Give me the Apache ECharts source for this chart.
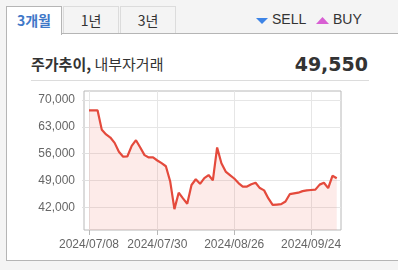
<!DOCTYPE html>
<html><head><meta charset="utf-8">
<script src="https://cdn.jsdelivr.net/npm/echarts@6/dist/echarts.min.js"></script>
<style>
html,body{margin:0;padding:0;width:398px;height:270px;background:#f4f4f4;overflow:hidden;font-family:"Noto Sans CJK KR","Liberation Sans",sans-serif;}
#panel{position:absolute;left:6px;top:33px;width:400px;height:226px;background:#fff;border-left:1px solid #b5b5b5;border-top:1px solid #b5b5b5;border-bottom:1px solid #b5b5b5;}
.tab{position:absolute;top:6px;height:27px;box-sizing:border-box;text-align:center;line-height:26px;font-size:14px;color:#333;background:#f4f4f4;border:1px solid #dcdcdc;border-bottom:none;}
#t1{left:6px;width:56px;background:#fff;border:1px solid #b5b5b5;border-bottom:none;height:29px;color:#3f78c8;font-weight:bold;z-index:2;}
#t2{left:63px;width:56px;}
#t3{left:120px;width:56px;}
.leg{position:absolute;top:11px;font-family:"Liberation Sans Narrow","Liberation Sans",sans-serif;font-size:14px;color:#333;line-height:16px;}
#title{position:absolute;left:31px;top:54px;font-size:15px;color:#333;line-height:20px;}
#price{position:absolute;right:30px;top:52px;font-family:"DejaVu Sans",sans-serif;font-weight:bold;font-size:19px;color:#333;line-height:24px;}
#sep{position:absolute;left:31px;top:80px;width:338px;height:1px;background:#dcdcdc;}
#chart{position:absolute;left:0;top:0;width:398px;height:270px;}
</style></head>
<body>
<div id="panel"></div>
<div class="tab" id="t1">3개월</div>
<div class="tab" id="t2">1년</div>
<div class="tab" id="t3">3년</div>
<svg style="position:absolute;left:256px;top:18px" width="12" height="7"><polygon points="0,0 12,0 6,6" fill="#3d84e6"/></svg>
<div class="leg" style="left:272px">SELL</div>
<svg style="position:absolute;left:316px;top:17px" width="13" height="7"><polygon points="0,7 13,7 6.5,0" fill="#d85fd3"/></svg>
<div class="leg" style="left:333px">BUY</div>
<div id="title"><b>주가추이,</b> 내부자거래</div>
<div id="price">49,550</div>
<div id="sep"></div>
<div id="chart"></div>
<script>
const dates = [
 "2024/07/08","2024/07/09","2024/07/10","2024/07/11","2024/07/12",
 "2024/07/15","2024/07/16","2024/07/17","2024/07/18","2024/07/19",
 "2024/07/22","2024/07/23","2024/07/24","2024/07/25","2024/07/26",
 "2024/07/29","2024/07/30","2024/07/31","2024/08/01","2024/08/02",
 "2024/08/05","2024/08/06","2024/08/07","2024/08/08","2024/08/09",
 "2024/08/12","2024/08/13","2024/08/14","2024/08/16","2024/08/19",
 "2024/08/20","2024/08/21","2024/08/22","2024/08/23","2024/08/26",
 "2024/08/27","2024/08/28","2024/08/29","2024/08/30","2024/09/02",
 "2024/09/03","2024/09/04","2024/09/05","2024/09/06","2024/09/09",
 "2024/09/10","2024/09/11","2024/09/12","2024/09/13","2024/09/19",
 "2024/09/20","2024/09/23","2024/09/24","2024/09/25","2024/09/26",
 "2024/09/27","2024/09/30","2024/10/02","2024/10/04"
];
const prices = [
 67300,67300,67300,62200,61000,
 60200,58800,56500,55200,55300,
 58000,59500,57600,55600,55000,
 55000,54200,53500,52700,48800,
 41500,45800,44300,42900,47800,
 49300,48100,49600,50400,49000,
 57600,53500,51300,50400,49500,
 48300,47400,47400,48000,48400,
 47000,46400,44300,42600,42700,
 42800,43500,45400,45600,45800,
 46200,46400,46500,46600,47900,
 48400,47000,50200,49550
];
const xTickDates = ["2024/07/08","2024/07/30","2024/08/26","2024/09/24"];
const yTicks = [42000,49000,56000,63000,70000];

const xTickIdx = xTickDates.map(d => dates.indexOf(d));
const seriesData = prices.map((v,i) => [i, v]);

const chart = echarts.init(document.getElementById('chart'), null, {renderer:'canvas'});
chart.setOption({
  animation:false,
  grid:{left:84, top:91, right:57, bottom:40, show:true, borderColor:'#b8b8b8', borderWidth:1, backgroundColor:'transparent'},
  xAxis:{
    type:'value', min:-1.17, max:59.0,
    axisLine:{show:false},
    axisTick:{show:true, customValues:xTickIdx, length:5, lineStyle:{color:'#b8b8b8'}},
    axisLabel:{customValues:xTickIdx, formatter:v => dates[v] || '', color:'#666', fontSize:12, fontFamily:'Liberation Sans', margin:9},
    splitLine:{show:true, lineStyle:{color:'#e6e6e6'}}
  },
  yAxis:{
    type:'value', min:36050, max:72350,
    axisLine:{show:false},
    axisTick:{show:true, customValues:yTicks, length:7, lineStyle:{color:'#e0e0e0'}},
    axisLabel:{customValues:yTicks, formatter:v => v.toLocaleString('en-US'), color:'#666', fontSize:12, fontFamily:'Liberation Sans', margin:9},
    splitLine:{show:true, lineStyle:{color:'#e6e6e6'}}
  },
  series:[{
    type:'line', data:seriesData, showSymbol:false, symbol:'none',
    lineStyle:{color:'#e44a3c', width:2.2},
    areaStyle:{color:'rgba(240,110,100,0.2)'}
  }]
});
</script>
</body></html>
